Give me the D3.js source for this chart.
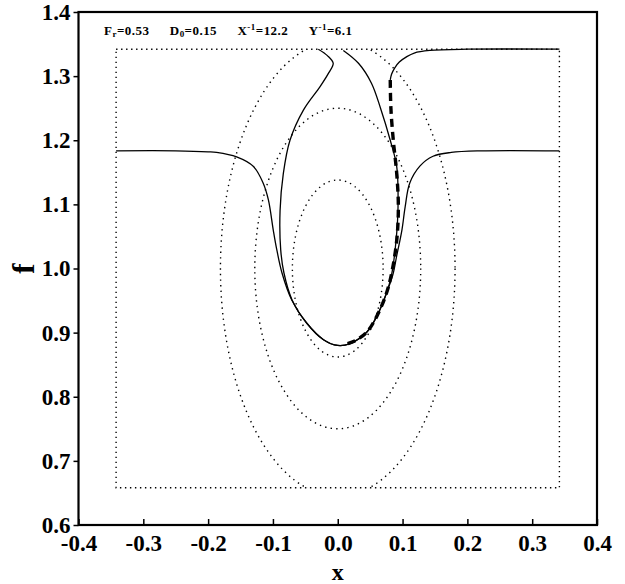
<!DOCTYPE html>
<head>
  <meta charset="utf-8">
  <script src="https://cdnjs.cloudflare.com/ajax/libs/d3/7.8.5/d3.min.js"></script>
  <style>
    body { margin: 0; background: #fff; }
    text { font-family: "Liberation Serif", "Times New Roman", serif; font-weight: bold; }
  </style>
</head>

<body>
  <div id="chart"></div>

  <script>
    // axis ticks
    const xTicks = [-0.4, -0.3, -0.2, -0.1, 0.0, 0.1, 0.2, 0.3, 0.4];
    const yTicks = [0.6, 0.7, 0.8, 0.9, 1.0, 1.1, 1.2, 1.3, 1.4];

    // dotted box (x range, f range)
    const boxX = [-0.342, 0.342];
    const boxF = [0.658, 1.342];

    // dotted ellipses centred on (0, 1): half widths and half heights
    const ellipseCenter = [0, 1.0];
    const ellipseA = [0.070, 0.128, 0.181];
    const ellipseB = [0.138, 0.250, 0.355];

    // solid curve: the wide well
    const wellCurve = [
      [-0.342, 1.1835], [-0.25, 1.1835], [-0.20, 1.182], [-0.187, 1.181], [-0.156, 1.174],
      [-0.130, 1.159], [-0.115, 1.133], [-0.107, 1.107], [-0.0995, 1.06], [-0.094, 1.029],
      [-0.086, 0.993], [-0.071, 0.951], [-0.048, 0.915], [-0.022, 0.889], [0.0, 0.880],
      [0.019, 0.883], [0.045, 0.901], [0.060, 0.925], [0.075, 0.961], [0.085, 0.990],
      [0.091, 1.020], [0.099, 1.060], [0.104, 1.096], [0.111, 1.133], [0.127, 1.160],
      [0.147, 1.175], [0.175, 1.181], [0.22, 1.1835], [0.342, 1.1835]
    ];

    // solid curve: the tall loop hanging from the top of the box
    const loopCurve = [
      [-0.030, 1.342], [-0.016, 1.332], [-0.007, 1.320], [-0.014, 1.305], [-0.027, 1.284],
      [-0.053, 1.247], [-0.0737, 1.200], [-0.084, 1.148], [-0.089, 1.090], [-0.088, 1.029],
      [-0.083, 0.993], [-0.0705, 0.951], [-0.048, 0.915], [-0.022, 0.889], [0.0, 0.880],
      [0.019, 0.883], [0.045, 0.901], [0.060, 0.925], [0.075, 0.961], [0.083, 0.990],
      [0.090, 1.044], [0.093, 1.096], [0.091, 1.159], [0.081, 1.200], [0.066, 1.250],
      [0.052, 1.289], [0.032, 1.320], [0.0086, 1.340]
    ];

    // solid curve coming in along the top right
    const topCurve = [
      [0.342, 1.342], [0.20, 1.342], [0.142, 1.340], [0.118, 1.336], [0.106, 1.330],
      [0.095, 1.322], [0.088, 1.313], [0.083, 1.303], [0.081, 1.294]
    ];

    // thick dashed continuation
    const dashCurve = [
      [0.081, 1.294], [0.082, 1.250], [0.0857, 1.200], [0.091, 1.148], [0.0935, 1.096],
      [0.091, 1.044], [0.083, 0.992], [0.075, 0.961], [0.060, 0.925], [0.045, 0.901],
      [0.028, 0.888], [0.010, 0.881]
    ];

    const width = 625;
    const height = 584;

    const svg = d3.select('#chart').append('svg')
      .attr('width', width)
      .attr('height', height);

    const x = d3.scaleLinear().domain([-0.4, 0.4]).range([78.5, 597]);
    const y = d3.scaleLinear().domain([0.6, 1.4]).range([525, 12]);

    const line = d3.line()
      .x(d => x(d[0]))
      .y(d => y(d[1]))
      .curve(d3.curveCatmullRom.alpha(0.5));

    const fmt = d => d.toFixed(1);

    // clip for the ellipses
    svg.append('clipPath').attr('id', 'box')
      .append('rect')
      .attr('x', x(boxX[0])).attr('y', y(boxF[1]))
      .attr('width', x(boxX[1]) - x(boxX[0]))
      .attr('height', y(boxF[0]) - y(boxF[1]));

    // dotted box
    svg.append('rect')
      .attr('x', x(boxX[0])).attr('y', y(boxF[1]))
      .attr('width', x(boxX[1]) - x(boxX[0]))
      .attr('height', y(boxF[0]) - y(boxF[1]))
      .attr('fill', 'none').attr('stroke', '#000')
      .attr('stroke-width', 1.4).attr('stroke-dasharray', '1.4 3.6');

    // dotted ellipses
    svg.append('g').attr('clip-path', 'url(#box)')
      .selectAll('ellipse')
      .data(ellipseA.map((a, i) => [a, ellipseB[i]]))
      .join('ellipse')
      .attr('cx', x(ellipseCenter[0]))
      .attr('cy', y(ellipseCenter[1]))
      .attr('rx', d => x(d[0]) - x(0))
      .attr('ry', d => y(1 - d[1]) - y(1))
      .attr('fill', 'none').attr('stroke', '#000')
      .attr('stroke-width', 1.4).attr('stroke-dasharray', '1.4 4.2');

    // solid curves
    svg.selectAll('path.solid')
      .data([wellCurve, loopCurve, topCurve])
      .join('path').attr('class', 'solid')
      .attr('d', line)
      .attr('fill', 'none').attr('stroke', '#000')
      .attr('stroke-width', 1.3);

    // thick dashed curve
    svg.append('path')
      .datum(dashCurve)
      .attr('d', line)
      .attr('fill', 'none').attr('stroke', '#000')
      .attr('stroke-width', 3.4).attr('stroke-dasharray', '8 5');

    // frame
    svg.append('rect')
      .attr('x', x(-0.4)).attr('y', y(1.4))
      .attr('width', x(0.4) - x(-0.4))
      .attr('height', y(0.6) - y(1.4))
      .attr('fill', 'none').attr('stroke', '#000').attr('stroke-width', 2.2);

    // bottom axis: ticks inward
    const xAxis = svg.append('g')
      .attr('transform', `translate(0,${y(0.6)})`)
      .call(d3.axisBottom(x).tickValues(xTicks).tickFormat(fmt)
        .tickSizeInner(-6).tickSizeOuter(0).tickPadding(10));
    xAxis.select('.domain').remove();
    xAxis.selectAll('line').attr('stroke-width', 1.5);
    xAxis.selectAll('text').attr('font-size', 23).attr('fill', '#000')
      .attr('font-family', '"Liberation Serif", serif');

    // left axis: ticks outward
    const yAxis = svg.append('g')
      .attr('transform', `translate(${x(-0.4)},0)`)
      .call(d3.axisLeft(y).tickValues(yTicks).tickFormat(fmt)
        .tickSizeInner(5).tickSizeOuter(0).tickPadding(3));
    yAxis.select('.domain').remove();
    yAxis.selectAll('line').attr('stroke-width', 1.5);
    yAxis.selectAll('text').attr('font-size', 23).attr('fill', '#000')
      .attr('font-family', '"Liberation Serif", serif');

    // axis titles
    svg.append('text')
      .attr('x', x(0)).attr('y', 580)
      .attr('text-anchor', 'middle')
      .attr('font-size', 24)
      .text('x');

    svg.append('text')
      .attr('transform', `translate(34,${y(1.0)}) rotate(-90)`)
      .attr('text-anchor', 'middle')
      .attr('font-size', 31)
      .text('f');

    // parameter line
    const title = svg.append('text')
      .attr('x', 104).attr('y', 35)
      .attr('font-size', 13)
      .attr('textLength', 248)
      .attr('lengthAdjust', 'spacing');
    title.append('tspan').text('F');
    title.append('tspan').attr('font-size', 9).attr('dy', 2).text('r');
    title.append('tspan').attr('dy', -2).text('=0.53\u2003\u2002D');
    title.append('tspan').attr('font-size', 9).attr('dy', 2).text('0');
    title.append('tspan').attr('dy', -2).text('=0.15\u2003\u2002X');
    title.append('tspan').attr('font-size', 9).attr('dy', -5).text('-1');
    title.append('tspan').attr('dy', 5).text('=12.2\u2003\u2002Y');
    title.append('tspan').attr('font-size', 9).attr('dy', -5).text('-1');
    title.append('tspan').attr('dy', 5).text('=6.1');
  </script>
</body>
